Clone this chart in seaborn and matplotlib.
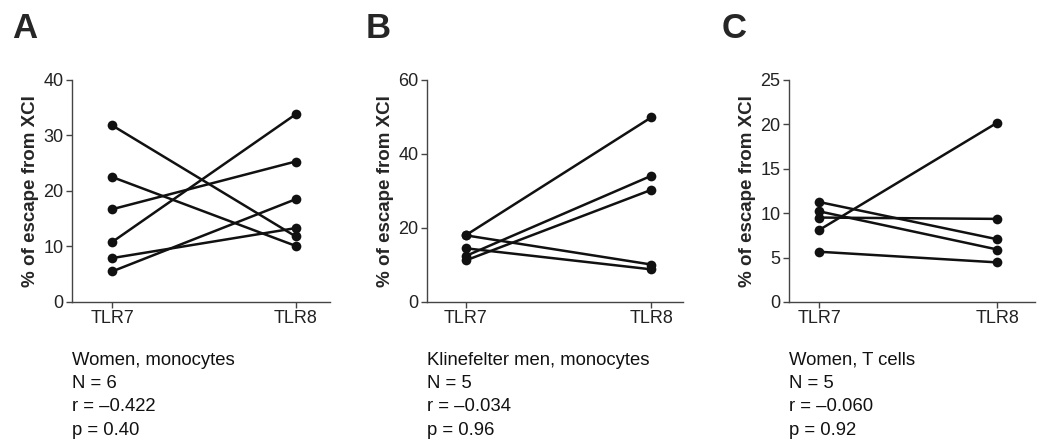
"""
Paired TLR7 / TLR8 escape from XCI, three panels.
"""

import matplotlib
matplotlib.use("Agg")
import matplotlib.pyplot as plt
import seaborn as sns
import pandas as pd
import numpy as np

genes = ["TLR7", "TLR8"]

# Panel A: women, monocytes (pairs TLR7 -> TLR8)
a_tlr7 = [31.8, 22.5, 16.7, 10.8, 7.9, 5.5]
a_tlr8 = [11.8, 10.1, 25.3, 33.8, 13.3, 18.5]

# Panel B: Klinefelter men, monocytes
b_tlr7 = [18.0, 18.0, 14.5, 12.4, 11.2]
b_tlr8 = [49.9, 10.1, 8.8, 34.1, 30.3]

# Panel C: women, T cells
c_tlr7 = [11.25, 10.2, 9.5, 8.1, 5.65]
c_tlr8 = [7.05, 5.9, 9.35, 20.2, 4.45]

letters = ["A", "B", "C"]
y_max = [40, 60, 25]
y_step = [10, 20, 5]
captions = [
    ["Women, monocytes", "N = 6", "r = \u20130.422", "p = 0.40"],
    ["Klinefelter men, monocytes", "N = 5", "r = \u20130.034", "p = 0.96"],
    ["Women, T cells", "N = 5", "r = \u20130.060", "p = 0.92"],
]

sns.set_style("ticks")
plt.rcParams['font.family'] = ['Liberation Sans', 'DejaVu Sans']

fig = plt.figure(figsize=(10.38, 4.44), dpi=100)

# axes boxes in figure fraction: left, bottom, width, height
boxes = [
    (0.0694, 0.32, 0.249, 0.50),
    (0.411, 0.32, 0.247, 0.50),
    (0.760, 0.32, 0.237, 0.50),
]
xlims = [(-0.219, 1.19), (-0.21, 1.17), (-0.17, 1.21)]
letter_x = [0.0116, 0.3526, 0.6956]

panels = [(a_tlr7, a_tlr8), (b_tlr7, b_tlr8), (c_tlr7, c_tlr8)]

for i, (t7, t8) in enumerate(panels):
    rows = []
    for k, (v7, v8) in enumerate(zip(t7, t8)):
        rows.append({"pair": k, "pos": 0, "val": v7})
        rows.append({"pair": k, "pos": 1, "val": v8})
    df = pd.DataFrame(rows)

    ax = fig.add_axes(boxes[i])
    sns.lineplot(data=df, x="pos", y="val", units="pair", estimator=None,
                 color="#111111", linewidth=1.8, marker="o", markersize=7,
                 markeredgewidth=0, ax=ax, legend=False)

    ax.set_xlim(*xlims[i])
    ax.set_ylim(0, y_max[i])
    ax.set_yticks(np.arange(0, y_max[i] + 1, y_step[i]))
    ax.set_xticks([0, 1])
    ax.set_xticklabels(genes)
    ax.set_xlabel("")
    ax.set_ylabel("% of escape from XCI", fontsize=13.5, fontweight="bold",
                  labelpad=3)
    sns.despine(ax=ax)
    for s in ("left", "bottom"):
        ax.spines[s].set_color("#444444")
        ax.spines[s].set_linewidth(1.0)
    ax.tick_params(axis="both", labelsize=13, length=4.5, width=1.0,
                   color="#444444", labelcolor="#222222", pad=1.5)

    # panel letter
    fig.text(letter_x[i], 0.915, letters[i], fontsize=25,
             fontweight="bold", ha="left", va="baseline")

    # caption block under the axis
    for j, line in enumerate(captions[i]):
        fig.text(boxes[i][0], 0.1885 - j * 0.0525, line, fontsize=13.3,
                 ha="left", va="center", color="#111111")

fig.savefig("out.png", dpi=100)
plt.close(fig)
